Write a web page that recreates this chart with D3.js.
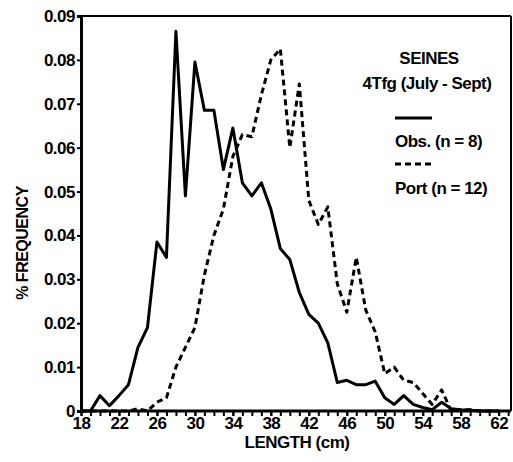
<!DOCTYPE html>
<html><head><meta charset="utf-8">
<script src="https://cdn.jsdelivr.net/npm/d3@7"></script>
<style>
html,body{margin:0;padding:0;background:#fff;}
svg text{font-family:"Liberation Sans",Arial,sans-serif;font-weight:bold;fill:#000;}
</style></head>
<body>
<svg id="chart" width="513" height="462"></svg>
<script>
// Lengths (cm)
const lengths = [18,19,20,21,22,23,24,25,26,27,28,29,30,31,32,33,34,35,36,37,38,39,40,41,42,43,44,45,46,47,48,49,50,51,52,53,54,55,56,57,58,59,60,61,62];
// Obs. (n = 8)
const obsValues = [0,0,0.0035,0.0012,0.0035,0.006,0.0145,0.019,0.0385,0.035,0.0865,0.049,0.0795,0.0685,0.0685,0.055,0.0645,0.052,0.049,0.052,0.046,0.037,0.0345,0.027,0.022,0.020,0.0155,0.0065,0.007,0.006,0.006,0.0068,0.003,0.0015,0.0035,0.0015,0.0008,0.0003,0.002,0.0005,0.0003,0.0002,0,0,0];
// Port (n = 12)
const portValues = [0,0,0,0,0,0,0.0005,0,0.002,0.003,0.010,0.0145,0.019,0.031,0.040,0.046,0.058,0.063,0.0625,0.072,0.080,0.0825,0.060,0.0745,0.048,0.0425,0.0465,0.029,0.0225,0.035,0.023,0.018,0.0085,0.010,0.007,0.0065,0.004,0.0015,0.0048,0,0.0003,0.0003,0,0,0];
const yTicks = [0,0.01,0.02,0.03,0.04,0.05,0.06,0.07,0.08,0.09];
const yTickLabels = ["0","0.01","0.02","0.03","0.04","0.05","0.06","0.07","0.08","0.09"];
const xTicks = [18,22,26,30,34,38,42,46,50,54,58,62];
const titleLines = ["SEINES","4Tfg (July - Sept)"];
const legendLabels = ["Obs. (n = 8)","Port (n = 12)"];
const xLabel = "LENGTH (cm)";
const yLabel = "% FREQUENCY";

const svg = d3.select("#chart");
const L = 81, R = 511, T = 16, B = 411;
const x = d3.scaleLinear().domain([18,63.3]).range([L,R]);
const y = d3.scaleLinear().domain([0,0.09]).range([B,T]);

// frame top/right
svg.append("line").attr("x1",L).attr("x2",R).attr("y1",T).attr("y2",T).attr("stroke","#000").attr("stroke-width",2);
svg.append("line").attr("x1",R).attr("x2",R).attr("y1",T).attr("y2",B).attr("stroke","#000").attr("stroke-width",2);

// y axis
const yAxis = d3.axisLeft(y).tickValues(yTicks).tickSize(4).tickPadding(2)
  .tickFormat((d,i)=>yTickLabels[i]);
const gy = svg.append("g").attr("transform",`translate(${L},0)`).call(yAxis);
gy.select(".domain").attr("stroke-width",3);
gy.selectAll(".tick line").attr("stroke-width",2);
gy.selectAll("text").style("font-size","17px").style("font-family","Liberation Sans, Arial").style("font-weight","bold").attr("letter-spacing","-0.5");

// x axis minor ticks
const minor = d3.range(18,64,1);
const gxm = svg.append("g").attr("transform",`translate(0,${B})`)
  .call(d3.axisBottom(x).tickValues(minor).tickSize(5).tickFormat(""));
gxm.select(".domain").remove();
gxm.selectAll(".tick line").attr("stroke-width",2);
const gx = svg.append("g").attr("transform",`translate(0,${B})`)
  .call(d3.axisBottom(x).tickValues(xTicks).tickSize(5).tickPadding(1).tickFormat(d3.format("d")));
gx.select(".domain").attr("stroke-width",3).attr("d",`M${L},0H${R}`);
gx.selectAll(".tick line").attr("stroke-width",2);
gx.selectAll("text").style("font-size","17px").style("font-family","Liberation Sans, Arial").style("font-weight","bold").attr("letter-spacing","-0.5");

// lines
const line = d3.line().x((d,i)=>x(lengths[i])).y(d=>y(d)).curve(d3.curveLinear);
svg.append("path").datum(portValues).attr("d",line).attr("fill","none").attr("stroke","#000")
  .attr("stroke-width",3).attr("stroke-dasharray","6,4").attr("stroke-linejoin","round");
svg.append("path").datum(obsValues).attr("d",line).attr("fill","none").attr("stroke","#000")
  .attr("stroke-width",3).attr("stroke-linejoin","round");

// axis titles
svg.append("text").attr("x",297).attr("y",448).attr("text-anchor","middle").style("font-size","17px").attr("letter-spacing","-0.5").text(xLabel);
svg.append("text").attr("transform","translate(28,243) rotate(-90)").attr("text-anchor","middle").style("font-size","16px").attr("letter-spacing","-0.5").text(yLabel);

// legend
svg.append("text").attr("x",429).attr("y",64).attr("text-anchor","middle").style("font-size","17px").attr("letter-spacing","-0.5").text(titleLines[0]);
svg.append("text").attr("x",427).attr("y",89).attr("text-anchor","middle").style("font-size","17px").attr("letter-spacing","-0.5").text(titleLines[1]);
svg.append("line").attr("x1",395).attr("x2",432).attr("y1",118).attr("y2",118).attr("stroke","#000").attr("stroke-width",3);
svg.append("text").attr("x",395).attr("y",147).style("font-size","17px").attr("letter-spacing","-0.5").text(legendLabels[0]);
svg.append("line").attr("x1",395).attr("x2",432).attr("y1",164).attr("y2",164).attr("stroke","#000").attr("stroke-width",3).attr("stroke-dasharray","6,4");
svg.append("text").attr("x",395).attr("y",194).style("font-size","17px").attr("letter-spacing","-0.5").text(legendLabels[1]);
</script>
</body></html>
